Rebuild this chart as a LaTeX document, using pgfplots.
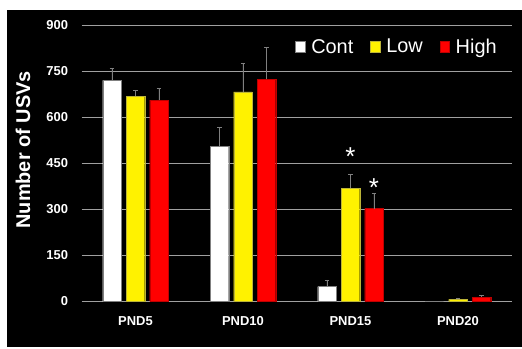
\documentclass[border=0pt]{standalone}
\usepackage{pgfplots}
\pgfplotsset{compat=1.18}
\usepackage{pgfplotstable}
\usepackage{fontspec}
\setmainfont{Liberation Sans}
\definecolor{gridgray}{HTML}{A0A0A0}
\definecolor{errgray}{HTML}{808080}
\pgfplotstableread{
x y e
0 720 39
1 505 62
2 48 20
3 0 0
}\cont
\pgfplotstableread{
x y e
0 668 20
1 682 94
2 369 45
3 6.5 3.5
}\low
\pgfplotstableread{
x y e
0 655 37
1 723 104
2 302 50
3 14 6
}\high
\begin{document}
\begin{tikzpicture}
\fill[white] (0bp,0bp) rectangle (522bp,349bp);
\fill[black] (7bp,2bp) rectangle (522bp,339bp);
\begin{axis}[
  at={(81.7bp,47.7bp)}, anchor=south west,
  scale only axis, width=430bp, height=276.3bp,
  xmin=-0.5, xmax=3.5, ymin=0, ymax=900,
  ytick={0,150,...,900},
  xtick={0,1,2,3},
  xticklabels={PND5,PND10,PND15,PND20},
  /pgf/number format/assume math mode=true,
  axis line style={draw=none},
  major tick length=0pt,
  ymajorgrids,
  grid style={gridgray, line width=0.7bp},
  ticklabel style={font=\fontsize{13}{15}\selectfont\bfseries, text=white, inner sep=0pt},
  yticklabel style={anchor=east, xshift=-13.4bp},
  xticklabel style={anchor=center, yshift=-19.4bp},
  ylabel={Number of USVs},
  ylabel style={at={(axis description cs:-0.1365,0.548)}, anchor=center, font=\fontsize{20}{24}\selectfont\bfseries, text=white},
  ybar, bar width=18.5bp,
  error bars/y dir=plus, error bars/y explicit,
  error bars/error bar style={errgray, line width=0.8bp},
  error bars/error mark options={rotate=90, mark size=2.2bp, errgray, line width=0.8bp},
  legend columns=3,
  legend style={at={(axis description cs:0.731,0.921)}, anchor=center, draw=none, fill=none, text=white,
    font=\fontsize{20}{24}\selectfont, inner sep=0pt,
    /tikz/every even column/.append style={column sep=17bp},
    nodes={inner sep=0pt, text=white}},
  legend image code/.code={\fill[#1] (0bp,-5.3bp) rectangle (9.5bp,5.3bp);},
  legend cell align=left,
]
\addplot[fill=white, draw=gray, bar shift=-23.5bp] table[x=x, y=y, y error=e] {\cont};
\addlegendentry{\hspace{6bp}Cont}
\addplot[fill=yellow, draw=yellow!70!black, bar shift=0bp] table[x=x, y=y, y error=e] {\low};
\addlegendentry{\hspace{6bp}Low}
\addplot[fill=red, draw=red!75!black, bar shift=23.5bp] table[x=x, y=y, y error=e] {\high};
\addlegendentry{\hspace{6bp}High}
\node[text=white, font=\fontsize{26}{28}\selectfont] at (axis cs:2,470) {*};
\node[text=white, font=\fontsize{26}{28}\selectfont] at (axis cs:2.219,370) {*};
\end{axis}
\end{tikzpicture}
\end{document}
